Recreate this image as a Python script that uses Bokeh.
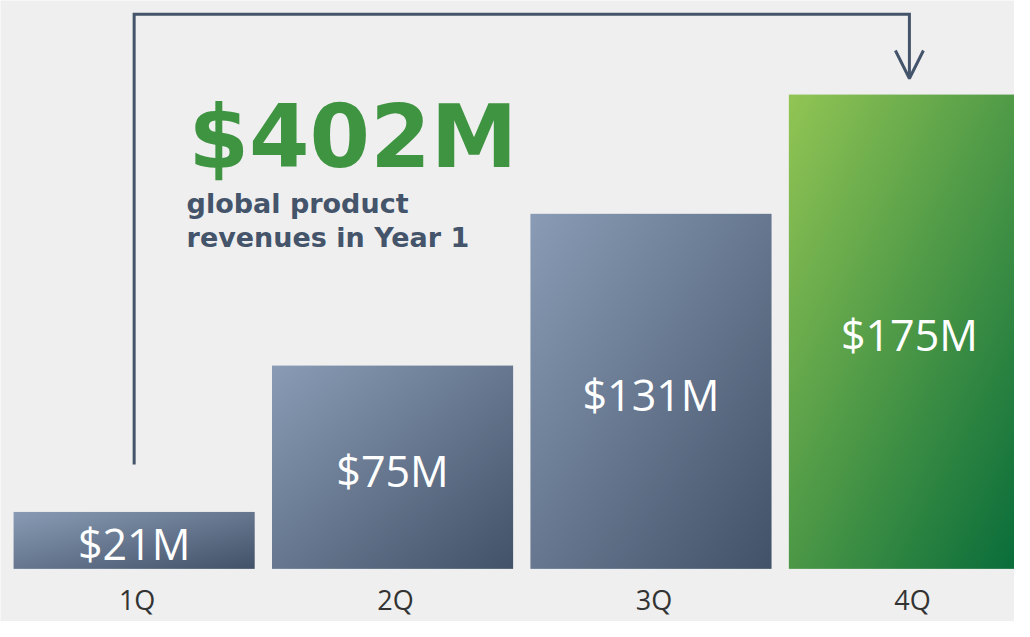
import numpy as np
from bokeh.plotting import figure
from bokeh.models import Range1d, ColumnDataSource, Arrow, OpenHead
from bokeh.core.properties import value
from bokeh.embed import file_html
from bokeh.resources import INLINE

# ---------------- data ----------------
categories = ["1Q", "2Q", "3Q", "4Q"]
revenues = [21, 75, 131, 175]          # $M per quarter
bar_labels = ["$21M", "$75M", "$131M", "$175M"]
total_label = "$402M"
subtitle_lines = ["global product", "revenues in Year 1"]

# ---------------- layout helpers ----------------
W, H = 1014, 621
SX, SY = W / 1030.0, H / 637.0
PX_PER_CAT = 262.5 * SX
CAT0_PX = 135.75 * SX          # centre of first category, frame px
BASE_PX = 583 * SY             # baseline (y=0) from frame top
PX_PER_UNIT = 2.78 * SY

x_start = -CAT0_PX / PX_PER_CAT
x_end = (W - CAT0_PX) / PX_PER_CAT
y_end = BASE_PX / PX_PER_UNIT
y_start = -(H - BASE_PX) / PX_PER_UNIT


def xd(px):  # reference px -> data x
    return (px * SX - CAT0_PX) / PX_PER_CAT


def yd(py):  # reference px -> data y
    return (BASE_PX - py * SY) / PX_PER_UNIT


p = figure(width=W, height=H, output_backend="svg", toolbar_location=None,
           x_range=Range1d(x_start, x_end), y_range=Range1d(y_start, y_end),
           min_border=0, outline_line_color=None,
           background_fill_color="#efefef", border_fill_color="#efefef")
p.axis.visible = False
p.grid.visible = False


def gradient(light, dark, n=220):
    r = np.linspace(0.0, 1.0, n)
    u = r[None, :]
    v = r[:, None]
    t = (u + (1.0 - v)) / 2.0
    lo = np.array(light, dtype=float)
    hi = np.array(dark, dtype=float)
    rgb = lo[None, None, :] * (1 - t[..., None]) + hi[None, None, :] * t[..., None]
    img = np.empty((n, n), dtype=np.uint32)
    view = img.view(dtype=np.uint8).reshape((n, n, 4))
    view[..., 0:3] = np.clip(rgb.round(), 0, 255).astype(np.uint8)
    view[..., 3] = 255
    return img


blue_img = gradient((0x8a, 0x9c, 0xb5), (0x42, 0x52, 0x69))
green_img = gradient((0x92, 0xc5, 0x54), (0x05, 0x6a, 0x39))

bar_w = 0.933
idx = list(range(len(categories)))
images = [green_img if i == len(categories) - 1 else blue_img for i in idx]
p.image_rgba(image=images, x=[i - bar_w / 2 for i in idx], y=[0] * len(idx),
             dw=[bar_w] * len(idx), dh=revenues)

# bar value labels
src = ColumnDataSource(dict(x=idx, y=[v / 2 for v in revenues], t=bar_labels,
                            cy=[yd(614)] * len(idx), c=categories))
p.text(x="x", y="y", text="t", source=src, text_color="white",
       text_font=value("Open Sans"), text_font_size="43px",
       text_align="center", text_baseline="middle", y_offset=3)

# category labels
p.text(x="x", y="cy", text="c", source=src, text_color="#333333",
       text_font=value("Open Sans"), text_font_size="27px",
       text_align="center", text_baseline="middle", x_offset=3)

# bracket from 1Q to 4Q
line_col = "#44546a"
top_y = yd(14)
tip_y = yd(80)
p.line(x=[0, 0, idx[-1], idx[-1]],
       y=[yd(476), top_y, top_y, tip_y + 1],
       line_color=line_col, line_width=3, line_join="miter")
p.add_layout(Arrow(end=OpenHead(size=28, line_color=line_col, line_width=3),
                   x_start=idx[-1], y_start=top_y - 5, x_end=idx[-1], y_end=tip_y,
                   line_alpha=0))

# headline
p.text(x=[xd(191)], y=[yd(140)], text=[total_label], text_color="#3f9441",
       text_font=value("DejaVu Sans"), text_font_style="bold",
       text_font_size="87px", text_align="left", text_baseline="alphabetic")
p.text(x=[xd(189)] * 2, y=[yd(208), yd(243)], text=subtitle_lines,
       text_color="#44546a", text_font=value("DejaVu Sans"),
       text_font_style="bold", text_font_size="27px", text_align="left",
       text_baseline="alphabetic")

open("out.html", "w").write(file_html(p, INLINE))
